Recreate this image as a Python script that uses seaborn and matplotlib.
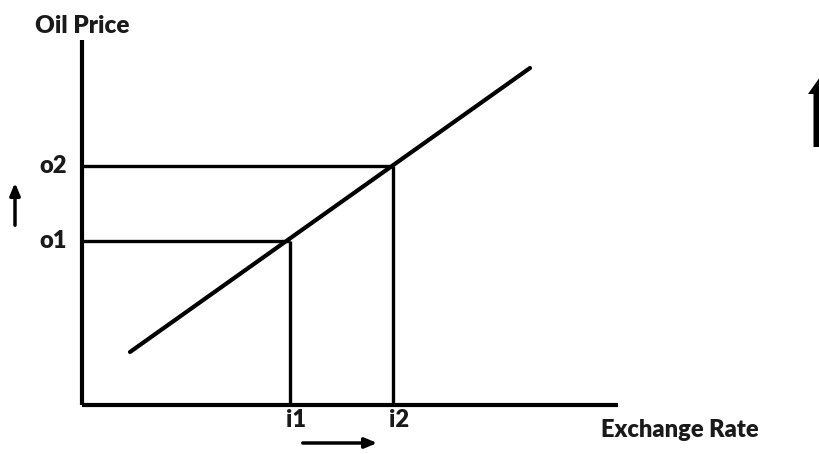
import matplotlib
matplotlib.use("Agg")
import matplotlib.pyplot as plt
import seaborn as sns
import pandas as pd

# Data (in chart units; origin at the axes corner)
line_x = [0.48, 4.48]          # exchange rate along supply line
line_y = [0.53, 3.37]          # oil price along supply line
rate_vals = [2.08, 3.11]       # i1, i2
price_vals = [1.64, 2.39]      # o1, o2
rate_labels = ["i1", "i2"]
price_labels = ["o1", "o2"]

sns.set_theme(style="white")
plt.rcParams['font.family'] = ['Lato', 'DejaVu Sans']

fig = plt.figure(figsize=(8.19, 4.54), dpi=100)
ax = fig.add_axes([0, 0, 1, 1])
ax.set_xlim(-0.82, 7.37)
ax.set_ylim(-0.49, 4.05)
ax.set_axis_off()

df = pd.DataFrame({"x": line_x, "y": line_y})
sns.lineplot(data=df, x="x", y="y", ax=ax, color="black", linewidth=3.0)

# Axes lines
ax.plot([0, 0], [0, 3.65], color="black", lw=3.0, solid_capstyle="butt")
ax.plot([0, 5.36], [0, 0], color="black", lw=3.0, solid_capstyle="butt")

# Guide lines
for xv, yv in zip(rate_vals, price_vals):
    ax.plot([0, xv], [yv, yv], color="black", lw=2.4, solid_capstyle="butt")
    ax.plot([xv, xv], [0, yv], color="black", lw=2.4, solid_capstyle="butt")

# Labels
txt = dict(color="#1a1a1a", fontweight="heavy")
for lab, yv in zip(price_labels, price_vals):
    ax.text(-0.15, yv, lab, ha="right", va="center", fontsize=17, **txt)
for lab, xv in zip(rate_labels, rate_vals):
    ax.text(xv - 0.04, -0.04, lab, ha="left", va="top", fontsize=17, **txt)

ax.text(-0.47, 3.79, "Oil Price", ha="left", va="center", fontsize=17.5, **txt)
ax.text(5.19, -0.25, "Exchange Rate", ha="left", va="center", fontsize=17, **txt)

# Arrows
arrow = dict(arrowstyle="-|>,head_width=0.25,head_length=0.6", color="black", lw=2.5)
ax.annotate("", xy=(-0.67, 2.25), xytext=(-0.67, 1.77), arrowprops=arrow)
ax.annotate("", xy=(2.98, -0.38), xytext=(2.18, -0.38), arrowprops=arrow)
ax.arrow(7.38, 2.58, 0, 0.70, width=0.13, head_width=0.24, head_length=0.17,
         length_includes_head=True, color="black", lw=0, clip_on=False)

fig.savefig("out.png", dpi=100)
